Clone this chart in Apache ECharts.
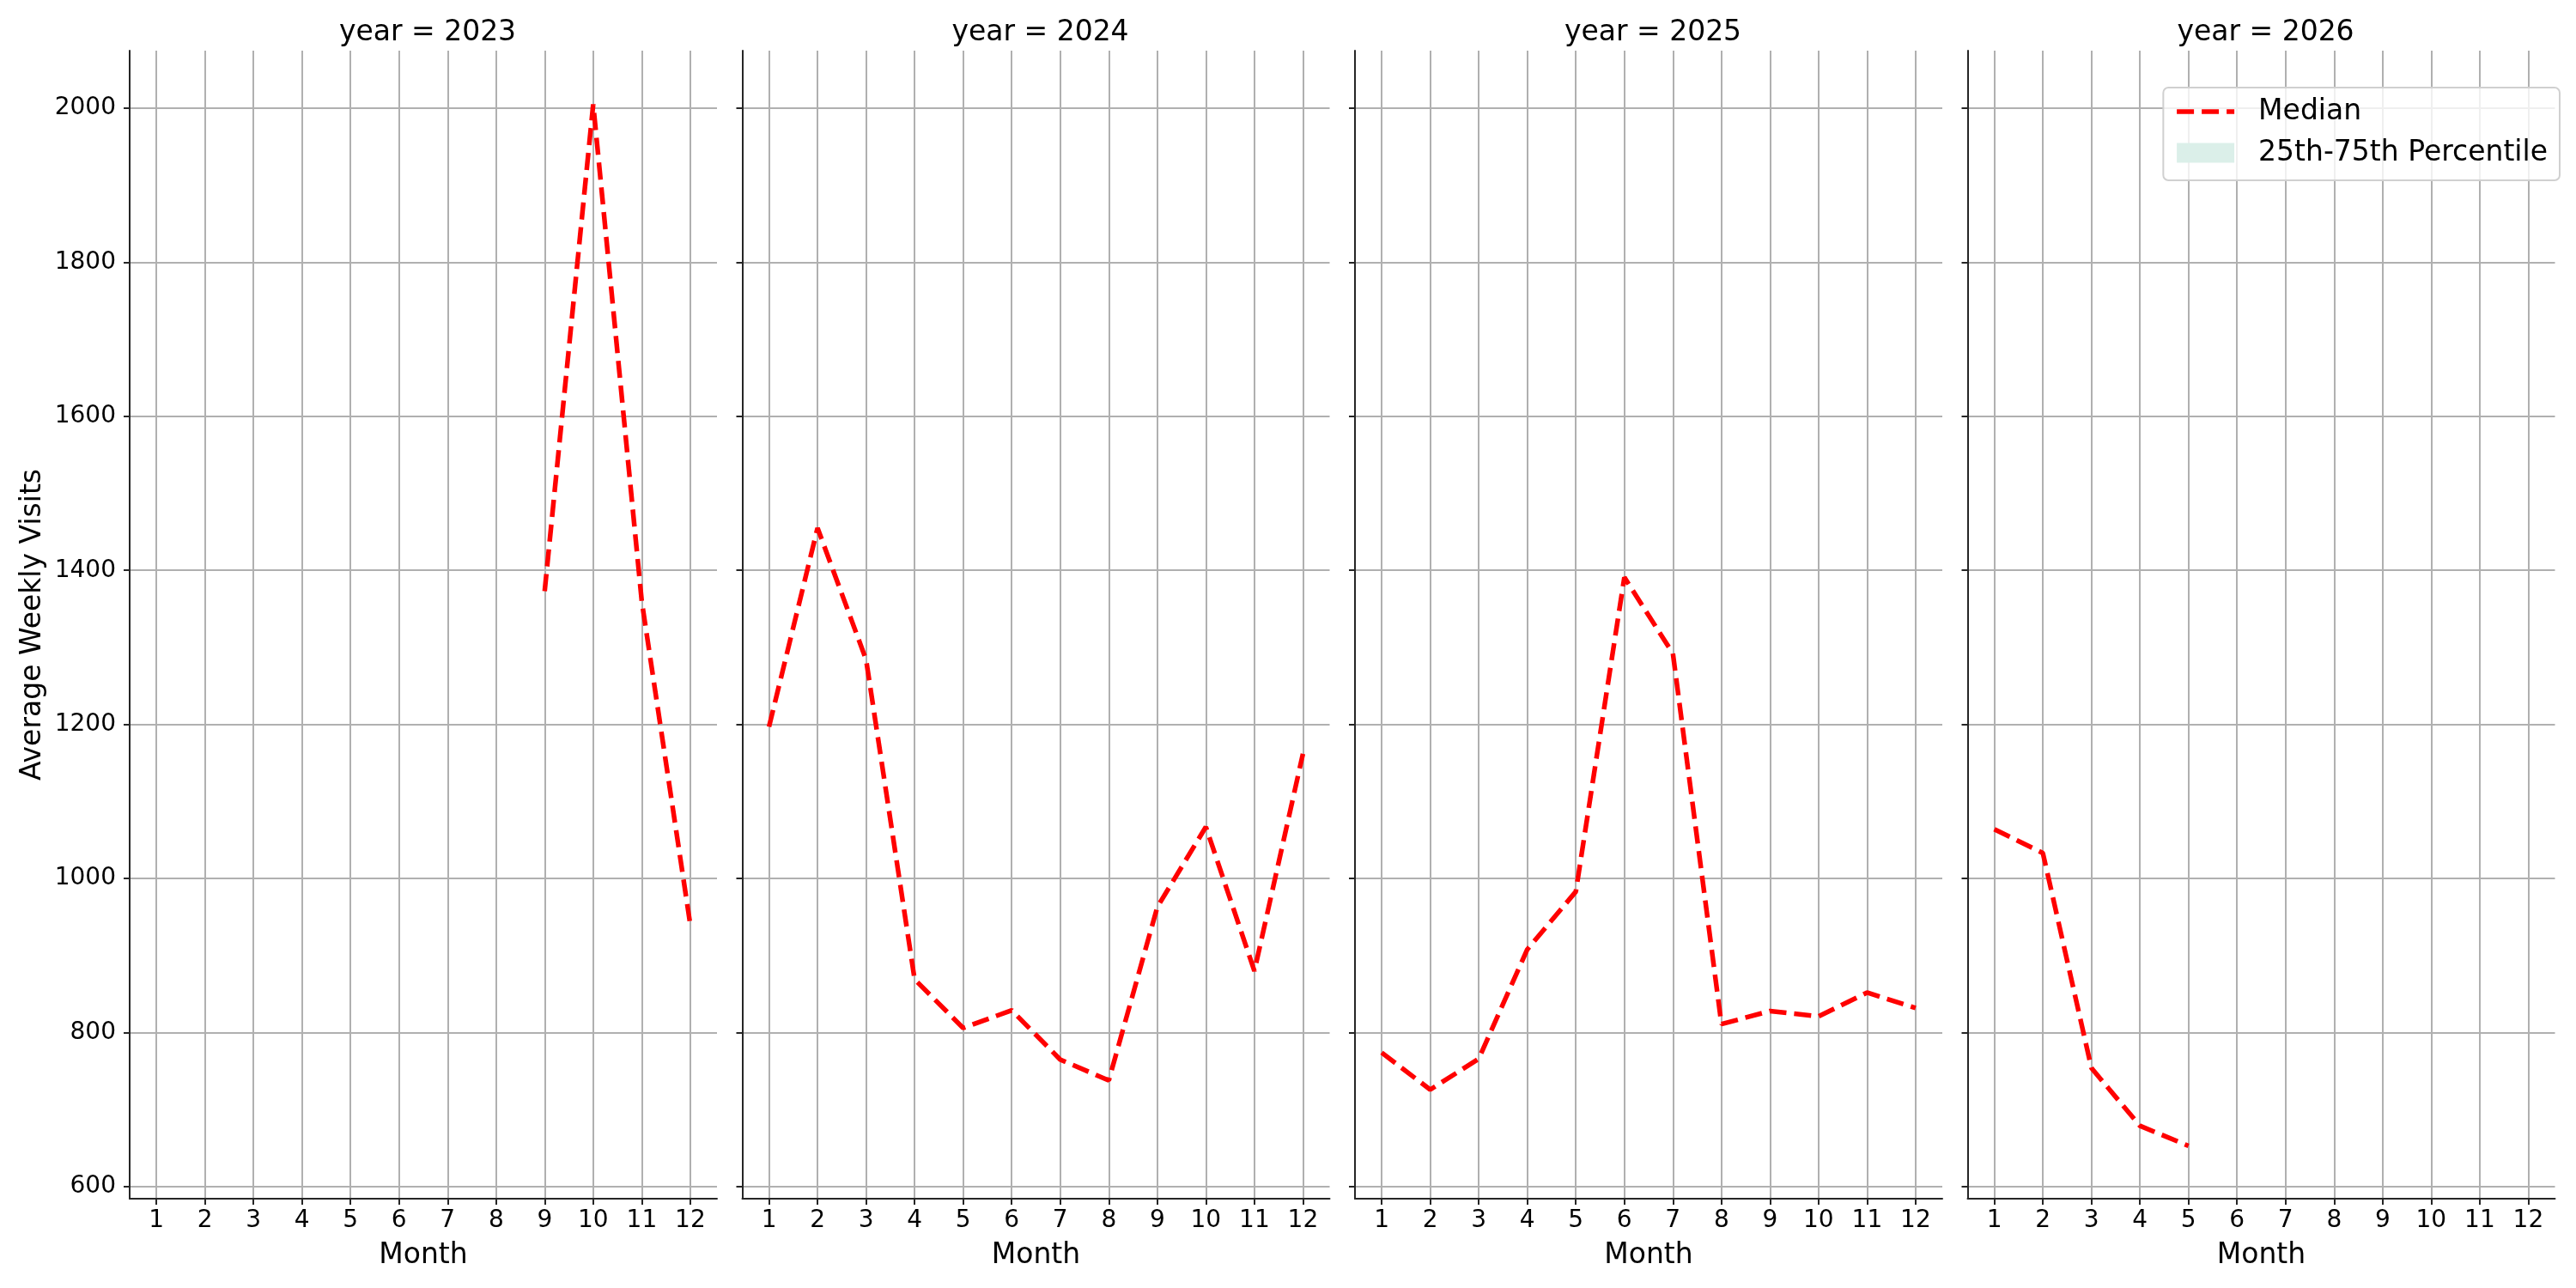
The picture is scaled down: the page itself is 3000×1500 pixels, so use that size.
<!DOCTYPE html>
<html>
<head>
<meta charset="utf-8">
<script src="https://cdn.jsdelivr.net/npm/echarts@6/dist/echarts.min.js"></script>
<style>
  html, body { margin: 0; padding: 0; background: #fff; }
  #chart { width: 3000px; height: 1500px; }
</style>
</head>
<body>
<div id="chart"></div>
<script>
// data
const years = [2023, 2024, 2025, 2026];
const months2023 = [9, 10, 11, 12];
const median2023 = [1373, 2005, 1360, 940];
const months2024 = [1, 2, 3, 4, 5, 6, 7, 8, 9, 10, 11, 12];
const median2024 = [1197, 1455, 1284, 869, 806, 829, 765, 738, 963, 1067, 880, 1162];
const months2025 = [1, 2, 3, 4, 5, 6, 7, 8, 9, 10, 11, 12];
const median2025 = [774, 726, 766, 908, 983, 1391, 1292, 811, 828, 821, 852, 832];
const months2026 = [1, 2, 3, 4, 5];
const median2026 = [1064, 1033, 754, 679, 653];

const monthTicks = [1, 2, 3, 4, 5, 6, 7, 8, 9, 10, 11, 12];
const visitTicks = [600, 800, 1000, 1200, 1400, 1600, 1800, 2000];

const panelMonths = [months2023, months2024, months2025, months2026];
const panelMedian = [median2023, median2024, median2025, median2026];

// layout
const FONT = 'DejaVu Sans';
const gridLeft = 151;
const gridStep = 713.5;
const gridWidth = 684;
const gridTop = 59;
const gridHeight = 1337;
const spine = '#262626';
const gridColor = '#b0b0b0';
const lineColor = '#ff0000';
const bandColor = '#dbefe9';
const dash = [20, 9];

const chart = echarts.init(document.getElementById('chart'), null, { renderer: 'canvas' });

const grids = [];
const xAxes = [];
const yAxes = [];
const titles = [];
const series = [];

years.forEach((year, i) => {
  const left = gridLeft + i * gridStep;
  grids.push({ left: left, top: gridTop, width: gridWidth, height: gridHeight, containLabel: false });

  titles.push({
    text: 'year = ' + year,
    left: left + gridWidth / 2,
    top: 17,
    textAlign: 'center',
    textStyle: { fontFamily: FONT, fontSize: 33, fontWeight: 'normal', color: '#000' }
  });

  xAxes.push({
    gridIndex: i,
    type: 'value',
    min: 0.45,
    max: 12.55,
    name: 'Month',
    nameLocation: 'middle',
    nameGap: 50,
    nameTextStyle: { fontFamily: FONT, fontSize: 33, color: '#000' },
    axisLine: { show: true, onZero: false, lineStyle: { color: spine, width: 2 } },
    axisTick: { show: true, length: 7, customValues: monthTicks, lineStyle: { color: spine, width: 2 } },
    axisLabel: { show: true, customValues: monthTicks, margin: 12, fontFamily: FONT, fontSize: 28, color: '#000' },
    splitLine: { show: true, lineStyle: { color: gridColor, width: 2 } }
  });

  yAxes.push({
    gridIndex: i,
    type: 'value',
    min: 584.4,
    max: 2074.6,
    name: i === 0 ? 'Average Weekly Visits' : '',
    nameLocation: 'middle',
    nameRotate: 90,
    nameGap: 96,
    nameTextStyle: { fontFamily: FONT, fontSize: 33, color: '#000' },
    axisLine: { show: true, onZero: false, lineStyle: { color: spine, width: 2 } },
    axisTick: { show: true, length: 7, customValues: visitTicks, lineStyle: { color: spine, width: 2 } },
    axisLabel: {
      show: i === 0,
      customValues: visitTicks,
      formatter: (v) => String(v),
      margin: 16,
      fontFamily: FONT,
      fontSize: 28,
      color: '#000'
    },
    splitLine: { show: true, lineStyle: { color: gridColor, width: 2 } }
  });

  series.push({
    name: 'Median',
    type: 'line',
    xAxisIndex: i,
    yAxisIndex: i,
    data: panelMonths[i].map((m, k) => [m, panelMedian[i][k]]),
    symbol: 'none',
    z: 5,
    itemStyle: { color: lineColor },
    lineStyle: { color: lineColor, width: 5.5, type: dash }
  });
});

// the percentile band has no visible extent in the picture, it only shows in the legend
series.push({
  name: '25th-75th Percentile',
  type: 'line',
  xAxisIndex: 0,
  yAxisIndex: 0,
  data: [],
  symbol: 'none',
  itemStyle: { color: bandColor },
  lineStyle: { color: bandColor }
});

chart.setOption({
  animation: false,
  backgroundColor: '#fff',
  title: titles,
  grid: grids,
  xAxis: xAxes,
  yAxis: yAxes,
  legend: {
    orient: 'vertical',
    right: 19,
    top: 102,
    padding: [10, 14, 14, 13],
    itemGap: 12,
    itemWidth: 67,
    itemHeight: 23,
    backgroundColor: 'rgba(255,255,255,0.8)',
    borderColor: '#d0d0d0',
    borderWidth: 2,
    borderRadius: 6,
    textStyle: { fontFamily: FONT, fontSize: 33, color: '#000', lineHeight: 36, padding: [0, 0, 0, 23] },
    data: [
      {
        name: 'Median',
        itemStyle: { opacity: 0 },
        lineStyle: { color: lineColor, width: 5.5, type: dash, opacity: 1 }
      },
      { name: '25th-75th Percentile', icon: 'rect', itemStyle: { color: bandColor } }
    ]
  },
  series: series
});
</script>
</body>
</html>
